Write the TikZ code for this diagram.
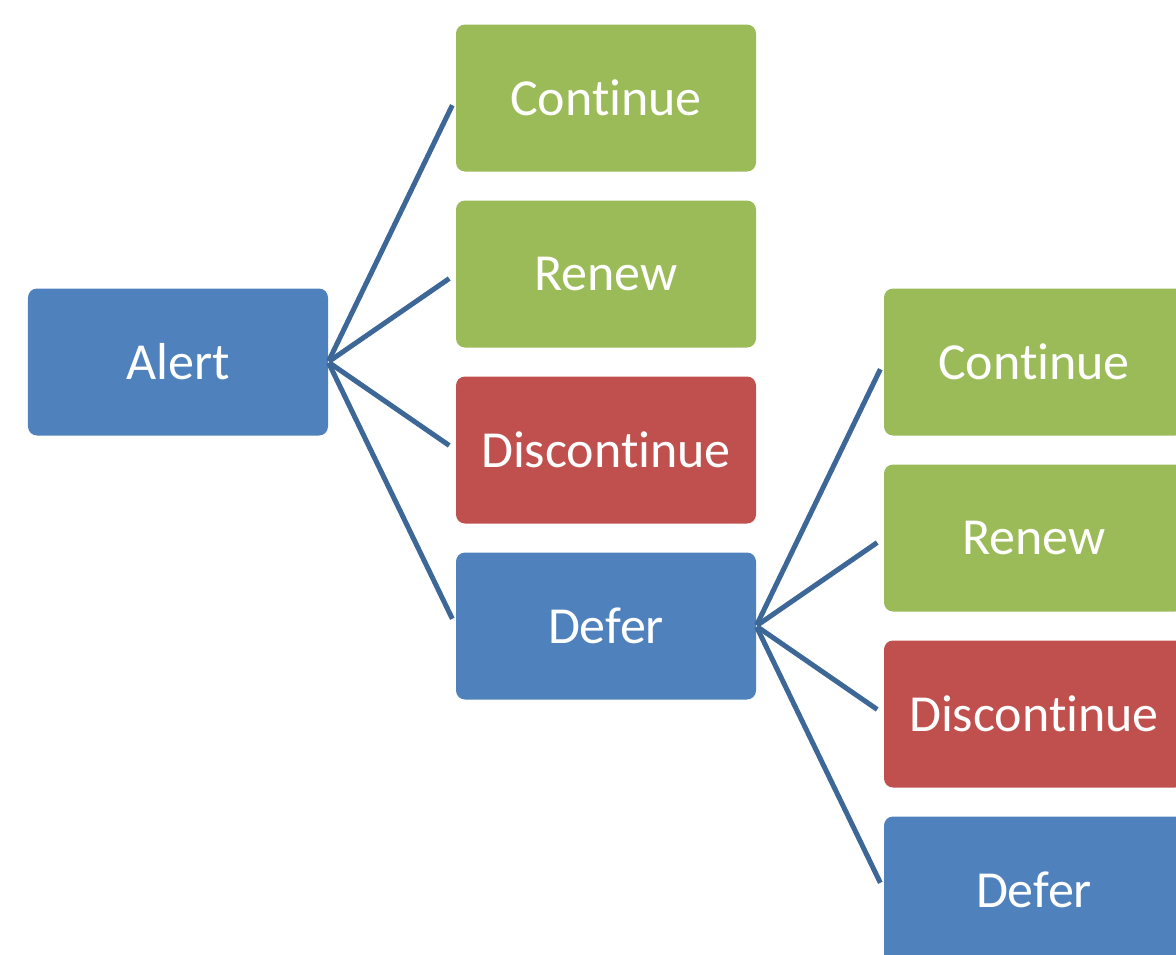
\documentclass[tikz,border=0pt]{standalone}
\usepackage{fontspec}
\setmainfont[RawFeature={-liga;-clig;-dlig;-calt}]{Carlito}
\usetikzlibrary{positioning}

\definecolor{boxblue}{HTML}{4F81BD}
\definecolor{boxgreen}{HTML}{9BBB59}
\definecolor{boxred}{HTML}{C0504D}
\definecolor{linkblue}{HTML}{3C6797}

\tikzset{
	box/.style={rectangle, rounded corners=9pt, minimum width=300pt, minimum height=147pt, inner sep=0pt, text=white, font=\fontsize{52}{60}\selectfont},
	bluebox/.style={box, fill=boxblue},
	greenbox/.style={box, fill=boxgreen},
	redbox/.style={box, fill=boxred},
	link/.style={draw=linkblue, line width=5pt, shorten <=1pt, shorten >=8pt}
}

\begin{document}
\begin{tikzpicture}[on grid]
			\useasboundingbox (-178pt,362pt) rectangle (998pt,-592pt);
			\clip (-178pt,362pt) rectangle (998pt,-592pt);
			\node[bluebox] (alert) {Alert};
			\node[greenbox] (cont) [above right=264pt and 428pt of alert] {Continue};
			\node[greenbox] (renew) [below=176pt of cont] {Renew};
			\node[redbox] (disc) [below=176pt of renew] {Discontinue};
			\node[bluebox] (defer) [below=176pt of disc] {Defer};
			\node[greenbox] (cont2) [above right=264pt and 428pt of defer] {Continue};
			\node[greenbox] (renew2) [below=176pt of cont2] {Renew};
			\node[redbox] (disc2) [below=176pt of renew2] {Discontinue};
			\node[bluebox] (defer2) [below=176pt of disc2] {Defer};
			\path[link]
				(alert.east) edge (cont.west)
				(alert.east) edge (renew.west)
				(alert.east) edge (disc.west)
				(alert.east) edge (defer.west)
				(defer.east) edge (cont2.west)
				(defer.east) edge (renew2.west)
				(defer.east) edge (disc2.west)
				(defer.east) edge (defer2.west);
		\end{tikzpicture}
\end{document}
